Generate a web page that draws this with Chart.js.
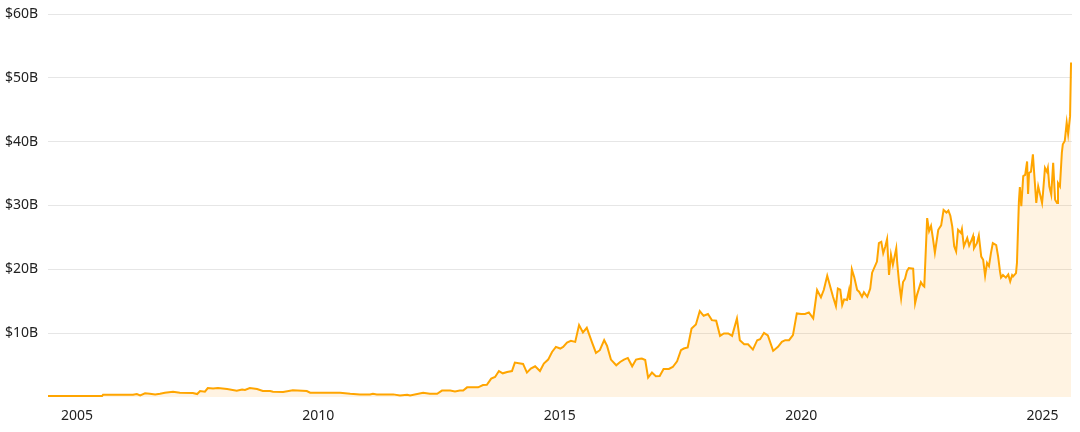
<!DOCTYPE html>
<html>
<head>
<meta charset="utf-8">
<script src="https://cdn.jsdelivr.net/npm/chart.js@4/dist/chart.umd.min.js"></script>
<style>
  body { margin: 0; background: #fff; }
  #wrap { width: 1080px; height: 432px; }
</style>
</head>
<body>
<div id="wrap"><canvas id="myChart"></canvas></div>
<script>
// decimal years
const years = [
  2004.40, 2005.52, 2005.54, 2006.16, 2006.24, 2006.31, 2006.41, 2006.51, 2006.62, 2006.72,
  2006.82, 2006.99, 2007.13, 2007.40, 2007.49, 2007.55, 2007.65, 2007.71, 2007.82, 2007.92,
  2008.11, 2008.31, 2008.42, 2008.48, 2008.58, 2008.73, 2008.85, 2009.00, 2009.06, 2009.27,
  2009.47, 2009.76, 2009.83, 2010.45, 2010.66, 2010.86, 2011.07, 2011.13, 2011.21, 2011.55,
  2011.69, 2011.84, 2011.90, 2012.17, 2012.31, 2012.46, 2012.56, 2012.73, 2012.83, 2012.93,
  2013.00, 2013.08, 2013.31, 2013.41, 2013.49, 2013.58, 2013.66, 2013.74, 2013.82, 2013.91,
  2014.01, 2014.07, 2014.24, 2014.32, 2014.40, 2014.49, 2014.59, 2014.67, 2014.76, 2014.84,
  2014.92, 2015.01, 2015.07, 2015.15, 2015.23, 2015.32, 2015.40, 2015.48, 2015.56, 2015.67,
  2015.75, 2015.83, 2015.92, 2015.98, 2016.06, 2016.17, 2016.25, 2016.33, 2016.41, 2016.50,
  2016.58, 2016.66, 2016.70, 2016.77, 2016.83, 2016.91, 2016.99, 2017.07, 2017.15, 2017.26,
  2017.34, 2017.43, 2017.51, 2017.57, 2017.65, 2017.73, 2017.82, 2017.90, 2017.98, 2018.07,
  2018.15, 2018.24, 2018.32, 2018.40, 2018.49, 2018.57, 2018.67, 2018.73, 2018.82, 2018.90,
  2019.00, 2019.09, 2019.15, 2019.23, 2019.31, 2019.42, 2019.52, 2019.60, 2019.67, 2019.75,
  2019.83, 2019.91, 2020.00, 2020.08, 2020.16, 2020.25, 2020.33, 2020.41, 2020.47, 2020.54,
  2020.62, 2020.66, 2020.72, 2020.76, 2020.81, 2020.85, 2020.89, 2020.95, 2020.99, 2021.01,
  2021.05, 2021.10, 2021.16, 2021.20, 2021.26, 2021.30, 2021.37, 2021.43, 2021.47, 2021.57,
  2021.61, 2021.66, 2021.70, 2021.74, 2021.78, 2021.82, 2021.86, 2021.90, 2021.97, 2021.99,
  2022.03, 2022.07, 2022.11, 2022.15, 2022.19, 2022.23, 2022.32, 2022.36, 2022.40, 2022.42,
  2022.48, 2022.52, 2022.55, 2022.61, 2022.65, 2022.69, 2022.73, 2022.77, 2022.84, 2022.90,
  2022.95, 2023.01, 2023.05, 2023.09, 2023.13, 2023.17, 2023.21, 2023.25, 2023.31, 2023.33,
  2023.37, 2023.44, 2023.48, 2023.52, 2023.56, 2023.58, 2023.64, 2023.68, 2023.73, 2023.77,
  2023.81, 2023.85, 2023.89, 2023.93, 2023.97, 2024.04, 2024.08, 2024.12, 2024.14, 2024.18,
  2024.24, 2024.29, 2024.33, 2024.37, 2024.39, 2024.45, 2024.47, 2024.51, 2024.53, 2024.56,
  2024.60, 2024.64, 2024.68, 2024.70, 2024.72, 2024.76, 2024.80, 2024.82, 2024.87, 2024.91,
  2024.95, 2024.99, 2025.01, 2025.05, 2025.09, 2025.11, 2025.14, 2025.18, 2025.22, 2025.26,
  2025.30, 2025.32, 2025.36, 2025.40, 2025.42, 2025.46, 2025.50, 2025.53, 2025.57, 2025.59
];
// market cap, billions of dollars
const marketCap = [
  0.15, 0.15, 0.36, 0.36, 0.46, 0.25, 0.57, 0.51, 0.41, 0.51,
  0.67, 0.83, 0.67, 0.62, 0.46, 0.93, 0.83, 1.40, 1.35, 1.40,
  1.25, 0.99, 1.19, 1.09, 1.40, 1.25, 0.93, 0.93, 0.83, 0.78,
  1.04, 0.93, 0.67, 0.67, 0.51, 0.41, 0.41, 0.51, 0.41, 0.41,
  0.25, 0.36, 0.25, 0.67, 0.51, 0.51, 1.00, 1.00, 0.88, 1.00,
  1.00, 1.51, 1.51, 1.87, 1.90, 2.87, 3.13, 4.07, 3.71, 3.92,
  4.07, 5.39, 5.18, 3.82, 4.44, 4.81, 4.07, 5.23, 5.86, 7.06,
  7.85, 7.59, 7.85, 8.53, 8.79, 8.63, 11.26, 10.11, 10.84, 8.53,
  6.91, 7.33, 8.90, 8.01, 5.86, 4.97, 5.49, 5.86, 6.12, 4.81,
  5.86, 6.00, 6.02, 5.80, 3.03, 3.82, 3.24, 3.30, 4.39, 4.39,
  4.70, 5.60, 7.33, 7.59, 7.75, 10.74, 11.37, 13.46, 12.72, 12.99,
  12.04, 11.95, 9.58, 9.95, 9.95, 9.58, 12.31, 8.90, 8.27, 8.27,
  7.43, 8.90, 9.06, 10.05, 9.64, 7.22, 7.85, 8.64, 8.90, 8.90,
  9.69, 13.09, 13.00, 13.00, 13.25, 12.31, 16.76, 15.61, 16.80, 19.01,
  16.80, 15.71, 14.25, 17.00, 16.80, 14.40, 15.30, 15.20, 16.70, 15.20,
  20.00, 18.76, 16.76, 16.50, 15.70, 16.40, 15.70, 16.97, 19.48, 21.21,
  24.10, 24.30, 22.53, 23.50, 24.73, 19.12, 22.30, 20.70, 23.30, 21.00,
  17.81, 15.45, 18.00, 18.50, 19.70, 20.20, 20.10, 14.67, 16.00, 16.00,
  18.00, 17.50, 17.30, 28.03, 26.00, 26.80, 24.80, 22.60, 26.20, 26.90,
  29.30, 28.90, 29.20, 28.40, 26.70, 23.60, 22.80, 26.20, 25.70, 26.30,
  23.60, 24.90, 23.70, 24.40, 25.20, 23.30, 24.10, 25.30, 22.00, 21.50,
  19.00, 21.00, 20.50, 22.50, 24.10, 23.80, 22.00, 19.60, 18.70, 19.10,
  18.70, 19.20, 18.10, 19.10, 18.90, 19.40, 21.00, 30.60, 32.90, 29.90,
  34.60, 34.80, 36.90, 31.80, 35.10, 35.30, 38.00, 35.80, 30.40, 33.00,
  31.70, 30.40, 32.00, 35.90, 35.30, 35.90, 33.00, 31.70, 36.70, 30.90,
  30.40, 33.50, 33.00, 38.30, 39.60, 40.10, 43.00, 41.20, 44.00, 52.40
];
const yearTicks = [2005, 2010, 2015, 2020, 2025];
const capTicks = [0, 10, 20, 30, 40, 50, 60];

const points = years.map((yr, i) => ({ x: yr, y: marketCap[i] }));

const ctx = document.getElementById("myChart").getContext("2d");
const chart = new Chart(ctx, {
  type: "line",
  data: {
    datasets: [
      {
        data: points,
        borderColor: "#ffa500",
        backgroundColor: "rgba(253, 160, 20, 0.12)",
        borderWidth: 2,
        fill: "origin",
        pointRadius: 0,
        tension: 0,
      },
    ],
  },
  options: {
    responsive: true,
    maintainAspectRatio: false,
    animation: false,
    layout: { padding: { top: 14, right: 8, bottom: 0, left: 0 } },
    plugins: { legend: { display: false }, tooltip: { enabled: false } },
    scales: {
      x: {
        type: "linear",
        min: 2004.4,
        max: 2025.61,
        afterFit: (scale) => {
          scale.height = 35;
          scale.paddingLeft = 0;
          scale.paddingRight = 0;
        },
        grid: { display: false, drawTicks: false },
        border: { display: false },
        afterBuildTicks: (scale) => {
          scale.ticks = yearTicks.map((v) => ({ value: v }));
        },
        ticks: {
          padding: 11,
          color: "#222",
          font: { family: "Noto Sans", size: 14 },
          callback: (v) => String(v),
        },
      },
      y: {
        min: 0,
        max: 60,
        afterFit: (scale) => {
          scale.width = 48;
          scale.paddingTop = 0;
          scale.paddingBottom = 0;
        },
        afterBuildTicks: (scale) => {
          scale.ticks = capTicks.map((v) => ({ value: v }));
        },
        grid: {
          drawTicks: false,
          color: (c) => (c.tick && c.tick.value === 0 ? "rgba(0,0,0,0)" : "#e6e6e6"),
        },
        border: { display: false },
        ticks: {
          padding: 10,
          color: "#222",
          font: { family: "Noto Sans", size: 14 },
          callback: (v) => (v === 0 ? "" : "$" + v + "B"),
        },
      },
    },
  },
});
</script>
</body>
</html>
